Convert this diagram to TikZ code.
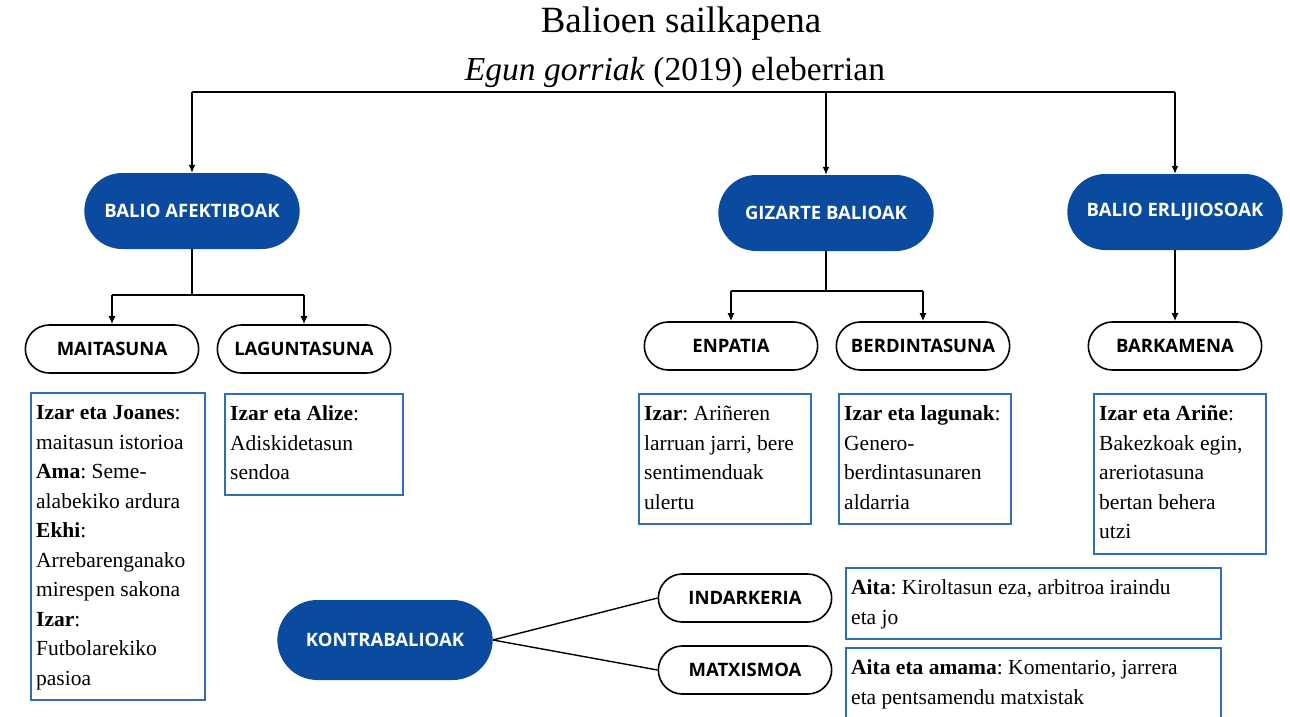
\documentclass[tikz,border=0pt]{standalone}
\usepackage{fontspec}
\setmainfont{Liberation Serif}
\newfontfamily\labelfont{Open Sans}
\usepackage{xcolor}
\usetikzlibrary{arrows.meta,shapes.misc}
\definecolor{valueblue}{RGB}{10,75,160}
\definecolor{boxblue}{RGB}{46,110,180}

\begin{document}
\frenchspacing
\begin{tikzpicture}[x=1pt,y=-1pt]
\tikzset{value node/.style={rounded rectangle,fill=valueblue,text=white,minimum width=222pt,minimum height=76pt,font=\labelfont\bfseries\fontsize{18.5}{22}\selectfont}}
\tikzset{sub node/.style={rounded rectangle,draw,line width=1.6pt,minimum width=180pt,minimum height=48pt,font=\labelfont\bfseries\fontsize{18.5}{22}\selectfont}}
\tikzset{example box/.style={draw=boxblue,line width=2.4pt,anchor=north west,align=flush left,inner xsep=5pt,inner ysep=6pt,font=\fontsize{21.5}{29.5}\selectfont,execute at begin node=\strut,execute at end node=\strut}}
\tikzset{branch/.style={line width=1.4pt,-{Latex[length=8pt,width=7pt]}}}
\tikzset{link/.style={line width=1.4pt}}

\useasboundingbox (0,0) rectangle (1290,717);

\node[font=\fontsize{37}{42}\selectfont] (title) at (681,24) {Balioen sailkapena};
\node[font=\fontsize{33.5}{40}\selectfont] (subtitle) at (675,72) {\textit{Egun gorriak} (2019) eleberrian};

\node[value node] (afek) at (192,211) {BALIO AFEKTIBOAK};
\node[value node] (gizarte) at (826,213) {GIZARTE BALIOAK};
\node[value node] (erlijio) at (1175,212) {BALIO ERLIJIOSOAK};
\node[value node,minimum height=80pt] (kontra) at (385,640) {KONTRABALIOAK};

\node[sub node] (maita) at (112,349) {MAITASUNA};
\node[sub node] (lagun) at (304,349) {LAGUNTASUNA};
\node[sub node] (enpatia) at (731,346) {ENPATIA};
\node[sub node] (berdin) at (923,346) {BERDINTASUNA};
\node[sub node] (barka) at (1175,346) {BARKAMENA};
\node[sub node] (indar) at (745,598) {INDARKERIA};
\node[sub node] (matxismo) at (745,670) {MATXISMOA};

\node[example box,text width=164pt] (maitabox) at (30,392) {\textbf{Izar eta Joanes}:\\maitasun istorioa\\\textbf{Ama}: Seme-\\alabekiko ardura\\\textbf{Ekhi}:\\Arrebarenganako\\mirespen sakona\\\textbf{Izar}:\\Futbolarekiko\\pasioa};
\node[example box,text width=168pt] (lagunbox) at (224,393) {\textbf{Izar eta Alize}:\\Adiskidetasun\\sendoa};
\node[example box,text width=162pt] (enpatiabox) at (638,393) {\textbf{Izar}: Ariñeren\\larruan jarri, bere\\sentimenduak\\ulertu};
\node[example box,text width=162pt] (berdinbox) at (838,393) {\textbf{Izar eta lagunak}:\\Genero-\\berdintasunaren\\aldarria};
\node[example box,text width=162pt] (barkabox) at (1093,393) {\textbf{Izar eta Ariñe}:\\Bakezkoak egin,\\areriotasuna\\bertan behera\\utzi};
\node[example box,text width=365pt] (indarbox) at (845,567) {\textbf{Aita}: Kiroltasun eza, arbitroa iraindu\\eta jo};
\node[example box,text width=365pt] (matxismobox) at (845,647) {\textbf{Aita eta amama}: Komentario, jarrera\\eta pentsamendu matxistak};

\coordinate (topL) at (192,92);
\coordinate (topR) at (1175,92);
\draw[link] (topL) -- (topR);
\draw[branch] (topL) -- (afek.north);
\draw[branch] (gizarte.north |- topL) -- (gizarte.north);
\draw[branch] (topR) -- (erlijio.north);

\coordinate (afekbar) at (192,295);
\draw[link] (afek.south) -- (afekbar);
\draw[link] (maita.north |- afekbar) -- (lagun.north |- afekbar);
\draw[branch] (maita.north |- afekbar) -- (maita.north);
\draw[branch] (lagun.north |- afekbar) -- (lagun.north);

\coordinate (gizartebar) at (826,291);
\draw[link] (gizarte.south) -- (gizartebar);
\draw[link] (enpatia.north |- gizartebar) -- (berdin.north |- gizartebar);
\draw[branch] (enpatia.north |- gizartebar) -- (enpatia.north);
\draw[branch] (berdin.north |- gizartebar) -- (berdin.north);

\draw[branch] (erlijio.south) -- (barka.north);

\draw[link] (kontra.east) -- (indar.west);
\draw[link] (kontra.east) -- (matxismo.west);

\end{tikzpicture}
\end{document}
